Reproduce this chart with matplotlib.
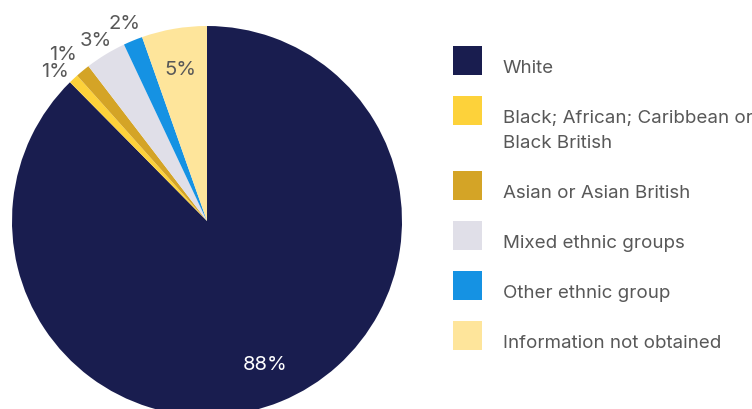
import matplotlib
matplotlib.use("Agg")
import numpy as np
import matplotlib.pyplot as plt
from matplotlib.patches import Rectangle

# ===== data =====
categories = ["White",
              "Black; African; Caribbean or\nBlack British",
              "Asian or Asian British",
              "Mixed ethnic groups",
              "Other ethnic group",
              "Information not obtained"]
shares = [87.6, 0.8, 1.2, 3.4, 1.6, 5.4]
pct_labels = ["88%", "1%", "1%", "3%", "2%", "5%"]
colors = ["#191d4f", "#fdd23a", "#d4a426", "#e0dfe8", "#1592e3", "#fee59b"]

W, H = 752, 410
plt.rcParams['font.family'] = ['Inter', 'DejaVu Sans']
text_grey = "#585858"
fs = 13.5

fig = plt.figure(figsize=(W / 100, H / 100), dpi=100)

# pie axes: centre (207, 222) px, radius 195 px
cx, cy, r = 207, 222, 195
ax = fig.add_axes([(cx - r) / W, (H - cy - r) / H, 2 * r / W, 2 * r / H])
wedges, _ = ax.pie(shares, colors=colors, startangle=90, counterclock=False,
                   wedgeprops=dict(linewidth=0))
ax.set_xlim(-1, 1)
ax.set_ylim(-1, 1)
ax.set_aspect('equal')
ax.axis('off')
for w in wedges:
    w.set_clip_on(False)

# percentage labels: (distance from centre, angle nudge in degrees, colour)
label_pos = {0: (0.78, 0, "white"),
             1: (1.10, 1.8, text_grey),
             2: (1.14, 0.8, text_grey),
             3: (1.10, 0, text_grey),
             4: (1.11, 0, text_grey),
             5: (0.80, 0, text_grey)}
for i, w in enumerate(wedges):
    d, nudge, c = label_pos[i]
    ang = np.deg2rad((w.theta1 + w.theta2) / 2 + nudge)
    ax.text(d * np.cos(ang), d * np.sin(ang), pct_labels[i], ha='center',
            va='center_baseline', fontsize=fs + 1, color=c, clip_on=False)

# ===== legend =====
sq = 29
y_c = 61.5
for cat, col in zip(categories, colors):
    lines = cat.split("\n")
    fig.patches.append(Rectangle(((453) / W, (H - y_c - sq / 2) / H), sq / W, sq / H,
                                 transform=fig.transFigure, facecolor=col, edgecolor='none'))
    for k, line in enumerate(lines):
        fig.text(503 / W, (H - (y_c + 11.5 + 25 * k)) / H, line, ha='left', va='baseline',
                 fontsize=fs, color=text_grey)
    y_c += 50 + 25 * (len(lines) - 1)

fig.savefig("out.png", dpi=100)
